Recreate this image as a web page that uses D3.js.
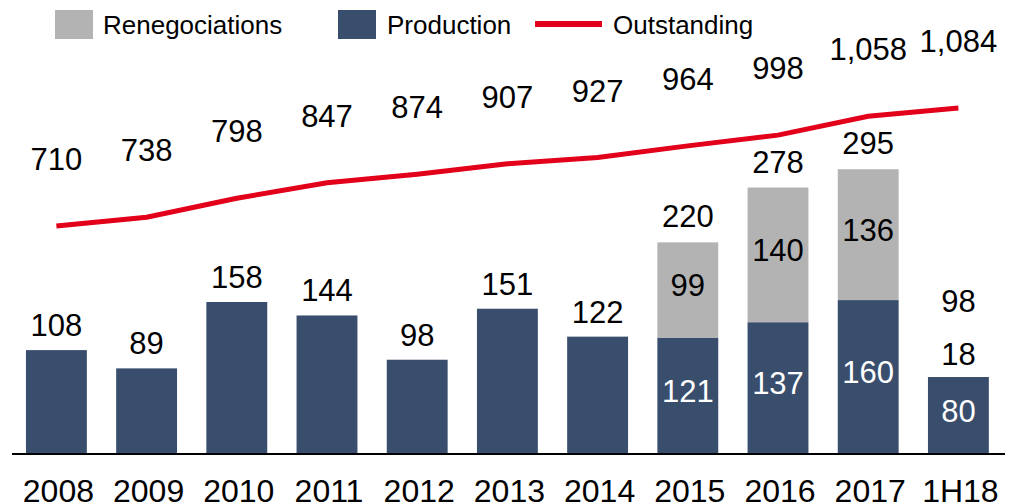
<!DOCTYPE html>
<html>
<head>
<meta charset="utf-8">
<script src="https://cdn.jsdelivr.net/npm/d3@7/dist/d3.min.js"></script>
<style>
  body { margin: 0; background: #fff; }
  text { font-family: "Liberation Sans", Arial, sans-serif; }
</style>
</head>
<body>
<svg id="chart"></svg>
<script>
// chart data
const categories = ["2008", "2009", "2010", "2011", "2012", "2013", "2014", "2015", "2016", "2017", "1H18"];
const production = [108, 89, 158, 144, 98, 151, 122, 121, 137, 160, 80];
const renegociations = [0, 0, 0, 0, 0, 0, 0, 99, 140, 136, 18];
const totals = [108, 89, 158, 144, 98, 151, 122, 220, 278, 295, 98];
const outstanding = [710, 738, 798, 847, 874, 907, 927, 964, 998, 1058, 1084];
// years where the renegociations segment is stacked on the bar
const stackedYears = ["2015", "2016", "2017"];

const width = 1010;
const height = 504;
const navy = "#394d6c";
const grey = "#b3b3b3";
const red = "#e2001a";

const svg = d3.select("#chart").attr("width", width).attr("height", height);

const x = d3.scaleBand()
  .domain(categories)
  .range([11.3, 1003.5])
  .paddingInner(0.325)
  .paddingOuter(0.1625);

// bars
const y = d3.scaleLinear().domain([0, 300]).range([454, 165.4]);
// outstanding line has its own scale
const yLine = d3.scaleLinear().domain([0, 1200]).range([450, 71.4]);

const rows = categories.map((c, i) => ({
  cat: c,
  prod: production[i],
  reneg: renegociations[i],
  total: totals[i],
  out: outstanding[i],
  stacked: stackedYears.includes(c)
}));

// production bars
svg.append("g")
  .selectAll("rect")
  .data(rows)
  .join("rect")
  .attr("x", (d) => x(d.cat))
  .attr("width", x.bandwidth())
  .attr("y", (d) => y(d.prod))
  .attr("height", (d) => y(0) - y(d.prod))
  .attr("fill", navy);

// renegociation segments
svg.append("g")
  .selectAll("rect")
  .data(rows.filter((d) => d.stacked))
  .join("rect")
  .attr("x", (d) => x(d.cat))
  .attr("width", x.bandwidth())
  .attr("y", (d) => y(d.prod + d.reneg))
  .attr("height", (d) => y(d.prod) - y(d.prod + d.reneg))
  .attr("fill", grey);

// axis baseline
svg.append("line")
  .attr("x1", 12).attr("x2", 1005)
  .attr("y1", y(0)).attr("y2", y(0))
  .attr("stroke", "#000")
  .attr("stroke-width", 2);

// year labels
const xAxis = d3.axisBottom(x).tickSize(0).tickPadding(0);
const gx = svg.append("g").attr("transform", `translate(0, ${y(0)})`).call(xAxis);
gx.select(".domain").remove();
gx.selectAll("text")
  .attr("y", 48)
  .attr("dy", 0)
  .attr("dx", 2)
  .attr("fill", "#000")
  .style("font-size", "32px")
  .style("font-family", "'Liberation Sans', Arial, sans-serif");

const cx = (d) => x(d.cat) + x.bandwidth() / 2;
const labels = svg.append("g").attr("text-anchor", "middle").style("font-size", "31px");

// totals above bars
labels.selectAll(".total")
  .data(rows)
  .join("text")
  .attr("class", "total")
  .attr("x", cx)
  .attr("y", (d) => {
    if (d.stacked) return y(d.prod + d.reneg) - 15;
    if (d.reneg > 0) return y(d.prod) - 12 - 53;
    return y(d.prod) - 14;
  })
  .text((d) => d.total);

// production values inside stacked bars
labels.selectAll(".prod")
  .data(rows.filter((d) => d.reneg > 0))
  .join("text")
  .attr("class", "prod")
  .attr("x", cx)
  .attr("y", (d) => (y(d.prod) + y(0)) / 2)
  .attr("dy", "0.2em")
  .attr("fill", "#fff")
  .text((d) => d.prod);

// renegociation values
labels.selectAll(".reneg")
  .data(rows.filter((d) => d.reneg > 0))
  .join("text")
  .attr("class", "reneg")
  .attr("x", cx)
  .attr("y", (d) => d.stacked ? (y(d.prod + d.reneg) + y(d.prod)) / 2 : y(d.prod) - 12)
  .attr("dy", (d) => d.stacked ? "0.2em" : 0)
  .text((d) => d.reneg);

// outstanding line
const line = d3.line().x(cx).y((d) => yLine(d.out));
svg.append("path")
  .datum(rows)
  .attr("d", line)
  .attr("fill", "none")
  .attr("stroke", red)
  .attr("stroke-width", 5);

labels.selectAll(".out")
  .data(rows)
  .join("text")
  .attr("class", "out")
  .attr("x", cx)
  .attr("y", (d) => yLine(d.out) - 56)
  .text((d) => d3.format(",")(d.out));

// legend
const legend = svg.append("g").style("font-size", "26px");
legend.append("rect").attr("x", 55).attr("y", 10).attr("width", 38).attr("height", 29).attr("fill", grey);
legend.append("text").attr("x", 103).attr("y", 34).text("Renegociations");
legend.append("rect").attr("x", 338).attr("y", 10).attr("width", 38).attr("height", 29).attr("fill", navy);
legend.append("text").attr("x", 387).attr("y", 34).text("Production");
legend.append("line")
  .attr("x1", 535).attr("x2", 602)
  .attr("y1", 24).attr("y2", 24)
  .attr("stroke", red)
  .attr("stroke-width", 6);
legend.append("text").attr("x", 613).attr("y", 34).text("Outstanding");
</script>
</body>
</html>
